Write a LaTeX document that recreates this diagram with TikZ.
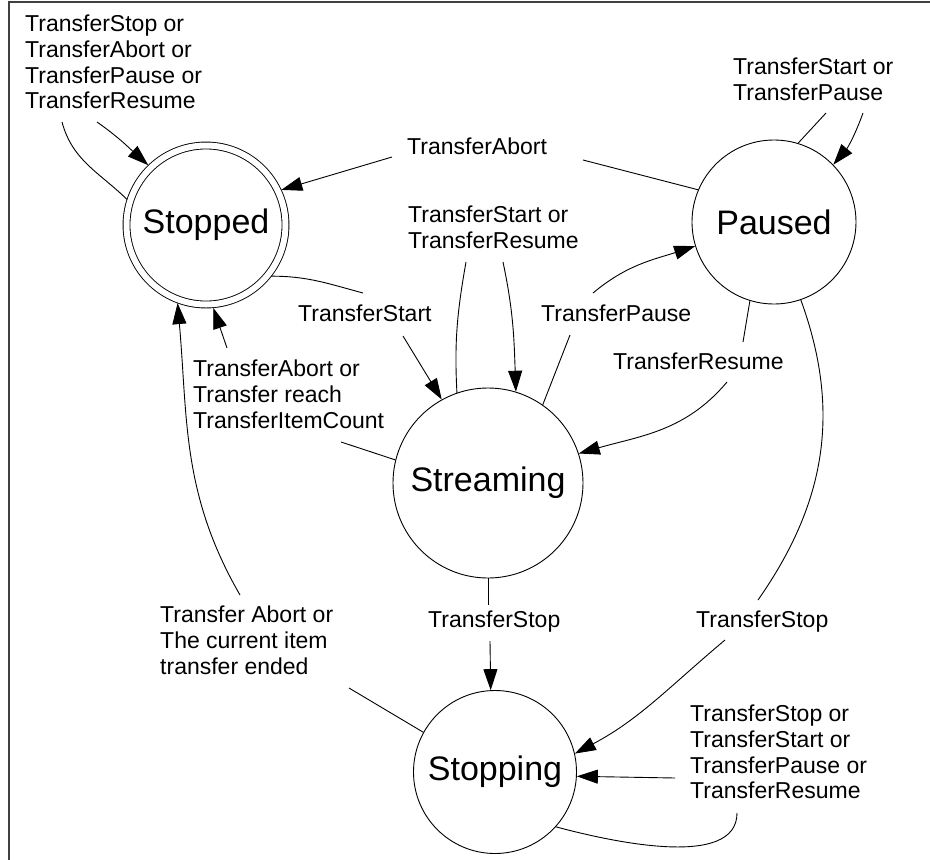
\documentclass[tikz,border=0pt]{standalone}
\usepackage{fontspec}
\setmainfont{Liberation Sans}
\usetikzlibrary{positioning, arrows.meta}

\begin{document}
\begin{tikzpicture}[x=1pt, y=1pt,
    state/.style={draw, circle, line width=0.9pt, inner sep=0pt, font=\fontsize{34}{40}\selectfont},
    lbl/.style={anchor=north west, inner sep=0pt, align=left, font=\fontsize{23}{25.7}\selectfont},
    link/.style={line width=0.9pt},
    arr/.style={line width=0.9pt, -{Triangle[length=21pt, width=14pt]}}]
  \useasboundingbox (0,0) rectangle (930,-860);

  % Frame
  \draw[line width=1.3pt, black!75] (9,-870) -- (9,-2) -- (940,-2);

  % States
  \node[state, double, double distance=6pt, minimum size=159pt, outer sep=3.6pt] (stopped) at (206,-225) {Stopped};
  \node[state, minimum size=164pt] (paused) at (774,-222) {Paused};
  \node[state, minimum size=190pt] (streaming) at (488,-483) {Streaming};
  \node[state, minimum size=163pt] (stopping) at (495,-772) {Stopping};

  % Labels
  \node[lbl] (l-stoppedloop) at (25,-15) {TransferStop or\\TransferAbort or\\TransferPause or\\TransferResume};
  \node[lbl] (l-abort) at (407,-138) {TransferAbort};
  \node[lbl] (l-streamloop) at (408,-206) {TransferStart or\\TransferResume};
  \node[lbl] (l-start) at (298,-305) {TransferStart};
  \node[lbl] (l-pause) at (541,-305) {TransferPause};
  \node[lbl] (l-resume) at (613,-353) {TransferResume};
  \node[lbl] (l-pausedloop) at (733,-58) {TransferStart or\\TransferPause};
  \node[lbl] (l-abortreach) at (193,-360) {TransferAbort or\\Transfer reach\\TransferItemCount};
  \node[lbl] (l-ended) at (160,-606) {Transfer Abort or\\The current item\\transfer ended};
  \node[lbl] (l-stopmid) at (428,-611) {TransferStop};
  \node[lbl] (l-stopright) at (696,-611) {TransferStop};
  \node[lbl] (l-stoppingloop) at (690,-705) {TransferStop or\\TransferStart or\\TransferPause or\\TransferResume};

  % Line ends beside the labels
  \coordinate (e1a) at (62,-122);   \coordinate (e1b) at (97,-122);
  \coordinate (e2a) at (583,-160);  \coordinate (e2b) at (392,-157);
  \coordinate (e3a) at (363,-293);  \coordinate (e3b) at (403,-336);
  \coordinate (e4a) at (466,-262);  \coordinate (e4b) at (503,-262);
  \coordinate (e5a) at (570,-335);  \coordinate (e5b) at (593,-293);
  \coordinate (e6a) at (743,-342);  \coordinate (e6b) at (727,-382);
  \coordinate (e7a) at (341,-442);  \coordinate (e7b) at (227,-348);
  \coordinate (e8a) at (349,-688);  \coordinate (e8b) at (240,-595);
  \coordinate (e9a) at (488,-605);  \coordinate (e9b) at (490,-641);
  \coordinate (e10a) at (758,-600); \coordinate (e10b) at (725,-640);
  \coordinate (e11a) at (737,-813); \coordinate (e11b) at (675,-778);
  \coordinate (e12a) at (826,-113); \coordinate (e12b) at (863,-113);

  % Stopped loop
  \draw[link] (stopped.162) to[out=136, in=-75] (e1a);
  \draw[arr] (e1b) to[out=-35, in=138] (stopped.134);
  % Paused -> Stopped
  \draw[link] (paused.157) -- (e2a);
  \draw[arr] (e2b) -- (stopped.25);
  % Stopped -> Streaming
  \draw[link] (stopped.-38) to[out=0, in=165] (e3a);
  \draw[arr] (e3b) -- (streaming.119.5);
  % Streaming loop
  \draw[link] (streaming.109) to[out=93, in=-100] (e4a);
  \draw[arr] (e4b) to[out=-78, in=92] (streaming.73);
  % Streaming -> Paused
  \draw[link] (streaming.55.5) -- (e5a);
  \draw[arr] (e5b) to[out=40, in=198] (paused.197.5);
  % Paused -> Streaming
  \draw[link] (paused.-107) -- (e6a);
  \draw[arr] (e6b) to[out=-130, in=16] (streaming.18.4);
  % Streaming -> Stopped
  \draw[link] (streaming.166) -- (e7a);
  \draw[arr] (e7b) -- (stopped.-85);
  % Stopping -> Stopped
  \draw[link] (stopping.151) -- (e8a);
  \draw[arr] (e8b) to[out=120, in=-85] (stopped.-110);
  % Streaming -> Stopping
  \draw[link] (streaming.south) -- (e9a);
  \draw[arr] (e9b) -- (stopping.93);
  % Paused -> Stopping
  \draw[link] (paused.-71) to[out=-70, in=55] (e10a);
  \draw[arr] (e10b) to[out=-140, in=28] (stopping.13.5);
  % Stopping loop
  \draw[link] (stopping.-42) to[out=-15, in=-90, looseness=0.8] (e11a);
  \draw[arr] (e11b) -- (stopping.-3);
  % Paused loop
  \draw[link] (paused.73) -- (e12a);
  \draw[arr] (e12b) to[out=-110, in=50] (paused.44.5);
\end{tikzpicture}
\end{document}
